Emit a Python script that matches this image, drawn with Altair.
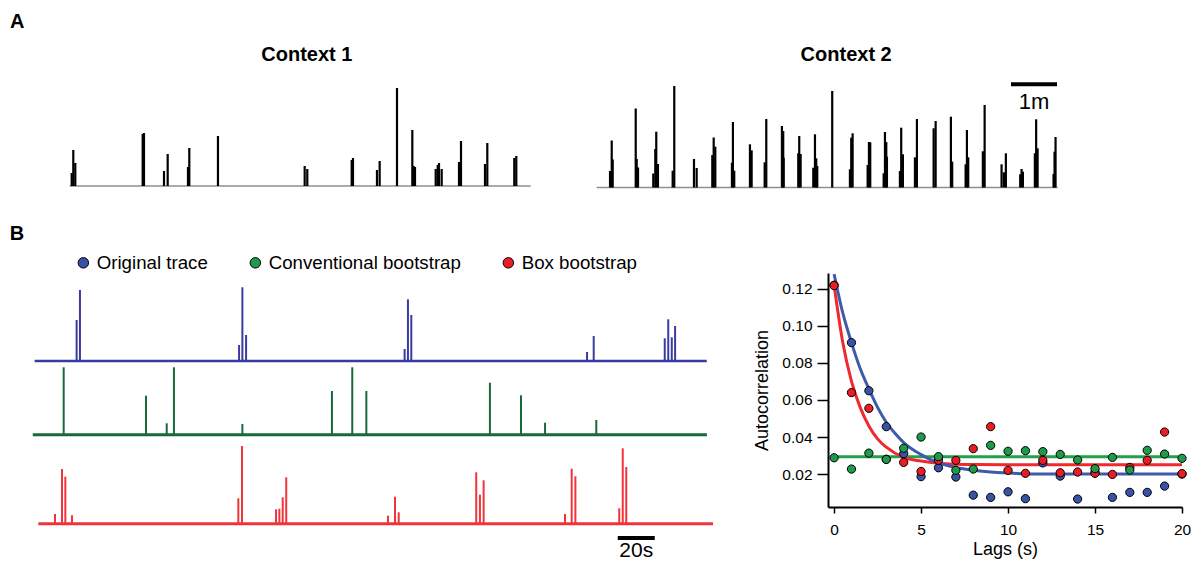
import altair as alt
import pandas as pd

FONT = "Liberation Sans"

# ---------------- Panel A data (time in s, amplitude in a.u.) ----------------
C1_T = [2.2, 4.3, 6.9, 94.8, 96.5, 122.6, 127.4, 153.9, 155.6, 193.0, 306.1, 309.5,
        367.4, 369.1, 400.4, 403.9, 426.5, 446.5, 448.3, 450.0, 477.0, 479.6, 481.3,
        484.8, 507.4, 510.0, 541.3, 544.3, 579.5, 582.1]
C1_H = [13, 36, 23, 52, 53, 15, 32, 19, 38, 50, 20, 17, 26, 28, 16, 25, 98, 56, 20,
        19, 17, 21, 23, 17, 24, 45, 22, 43, 28, 30]

C2_T = [17.0, 19.2, 20.5, 50.5, 51.8, 53.5, 73.4, 76.0, 77.3, 79.5, 98.7, 100.8,
        126.5, 130.0, 150.4, 152.2, 154.3, 176.0, 177.3, 179.0, 199.5, 201.7, 218.7,
        220.8, 241.2, 242.9, 243.5, 262.5, 263.8, 265.6, 282.1, 284.3, 286.0, 287.3,
        306.8, 329.9, 331.6, 333.4, 353.0, 354.7, 356.4, 373.9, 375.6, 377.3, 378.2,
        395.1, 396.8, 399.0, 414.7, 417.3, 439.1, 441.7, 461.6, 463.3, 480.8, 482.5,
        484.2, 503.3, 505.6, 527.7, 530.7, 533.3, 552.0, 553.8, 555.5, 571.1, 572.8,
        574.7, 595.5, 596.8, 598.1]
C2_H = [16.5, 47, 28, 79, 28.5, 20, 14, 38.5, 55.8, 23.5, 16.8, 101.5,
        28.5, 19.5, 32.5, 50, 40.8, 24.8, 65.5, 16.8, 43.2, 37.2, 25.2,
        68.5, 61.5, 56.5, 29.8, 34.2, 51.5, 33.5, 19.8, 53.2, 29.2, 21.5,
        96.5, 18.2, 49.8, 54.2, 22.5, 45.5, 45.2, 14.2, 55.5, 45.5, 30.8,
        16.5, 59.8, 33.2, 30.2, 68.5, 59.2, 66.5, 70.8, 25.8, 23.2, 57.5,
        30.2, 36.2, 82.5, 23.2, 15.2, 34.2, 13.2, 18.5, 15.8, 34.2, 68.2,
        39.2, 13.5, 35.8, 50.5]

# ---------------- Panel B traces ----------------
BLUE_T = [22.5, 24.3, 110.3, 112.1, 114.1, 199.8, 201.6, 203.4, 298.4, 302.0,
          340.4, 342.3, 344.2, 346.0]
BLUE_H = [41, 71, 16, 73.7, 26, 12, 61.7, 46, 9, 25, 22.7, 41.7, 23.7, 35]

GREEN_T = [15.5, 60.0, 71.2, 75.1, 112.1, 160.5, 171.5, 179.1, 245.9, 262.7,
           275.7, 303.4]
GREEN_H = [67.4, 39, 11.4, 67.4, 10.7, 43.7, 67.4, 43.7, 52, 39.4, 12, 14.7]

RED_T = [10.8, 14.6, 16.4, 20.0, 109.9, 111.9, 130.3, 132.1, 133.9, 135.8, 190.8,
         194.6, 196.6, 238.5, 240.5, 242.5, 286.5, 290.1, 292.1, 315.8, 317.7, 319.6]
RED_H = [9.7, 54.7, 47, 8.4, 25.4, 77.7, 14.4, 15, 26.4, 46.4, 8, 27, 11.4, 51.4,
         29, 43.4, 9.7, 55, 47.4, 15.4, 75.4, 56.7]

# ---------------- Autocorrelation ----------------
SERIES = ["Original trace", "Conventional bootstrap", "Box bootstrap"]
POINT_COLORS = ["#3953a4", "#1e9a4a", "#ed1c24"]
LAGS = list(range(21))
BLUE_ACF = [0.122, 0.091, 0.065, 0.0456, 0.031, 0.0186, 0.0234, 0.0184, 0.0086, 0.0074,
            0.0104, 0.0067, 0.026, 0.0189, 0.0065, 0.021, 0.0074, 0.0101, 0.0101,
            0.0135, 0.020]
RED_ACF = [0.1218, 0.064, 0.0555, 0.028, 0.0263, 0.0214, 0.0274, 0.0274, 0.0337,
           0.0456, 0.022, 0.0204, 0.0274, 0.0207, 0.0211, 0.0204, 0.0198, 0.0236,
           0.0274, 0.0427, 0.0202]
GREEN_ACF = [0.0288, 0.0227, 0.0313, 0.0279, 0.0339, 0.04, 0.0294, 0.022, 0.0227,
             0.0355, 0.0323, 0.0326, 0.0321, 0.0306, 0.0276, 0.0229, 0.029, 0.0222,
             0.0328, 0.0308, 0.0285]

BLUE_FIT_LAG = [0, 0.5, 1, 1.5, 2, 2.5, 3, 3.5, 4, 5, 6, 7, 8, 10, 12, 15, 20]
BLUE_FIT = [0.128, 0.107, 0.091, 0.077, 0.066, 0.056, 0.048, 0.042, 0.037, 0.0305,
            0.026, 0.0235, 0.022, 0.0205, 0.020, 0.020, 0.020]
RED_FIT_LAG = [0, 0.5, 1, 1.5, 2, 2.5, 3, 4, 5, 6, 7, 8, 10, 15, 20]
RED_FIT = [0.122, 0.091, 0.070, 0.056, 0.046, 0.039, 0.0345, 0.029, 0.027, 0.0258,
           0.0253, 0.0251, 0.025, 0.025, 0.025]
GREEN_FIT_LAG = [0, 20]
GREEN_FIT = [0.0293, 0.0293]


def lin(domain, rng):
    return alt.Scale(domain=domain, range=rng, nice=False, zero=False)


def txt(text, x, y, size, weight="normal", align="center"):
    return alt.Chart(pd.DataFrame({"a": [0]})).mark_text(
        text=text, font=FONT, fontSize=size, fontWeight=weight, color="black",
        align=align, baseline="middle").encode(
        x=alt.XDatum(x, axis=None), y=alt.YDatum(y, axis=None))


def trace(t, h, t0, t1, xs, ys, spike_color, base_color, base_w, spike_w, extras=()):
    df = pd.DataFrame({"time": t, "amp": h})
    spikes = alt.Chart(df).mark_rule(color=spike_color, strokeWidth=spike_w).encode(
        x=alt.X("time:Q", scale=xs, axis=None),
        y=alt.Y("amp:Q", scale=ys, axis=None),
        y2=alt.datum(0))
    base = alt.Chart(pd.DataFrame({"t0": [t0], "t1": [t1]})).mark_rule(
        color=base_color, strokeWidth=base_w).encode(
        x=alt.X("t0:Q", axis=None), x2="t1:Q", y=alt.YDatum(0, axis=None))
    return alt.layer(base, spikes, *extras)


# Panel A
xs_c1 = lin([0, 600], [62, 522])
ys_c1 = lin([0, 100], [178, 78])
c1 = trace(C1_T, C1_H, -0.5, 601, xs_c1, ys_c1, "black", "#8f8f8f", 1.5, 2.2,
           extras=[txt("Context 1", 309, 131, 20, "bold"),
                   txt("A", -69, 164, 20, "bold")])

xs_c2 = lin([0, 600], [589, 1049])
ys_c2 = lin([0, 100], [179.5, 79.5])
bar_1m = alt.Chart(pd.DataFrame({"s0": [540], "s1": [600]})).mark_rule(
    color="black", strokeWidth=4).encode(
    x=alt.X("s0:Q", axis=None), x2="s1:Q", y=alt.YDatum(103.2, axis=None))
c2 = trace(C2_T, C2_H, -0.5, 601, xs_c2, ys_c2, "black", "#8f8f8f", 1.5, 2.2,
           extras=[bar_1m, txt("1m", 570, 86, 22),
                   txt("Context 2", 325, 132.5, 20, "bold")])

# Panel B traces
xs_b = lin([0, 360], [27, 693])
blue_tr = trace(BLUE_T, BLUE_H, -0.2, 363.1, xs_b, lin([0, 100], [353, 253]),
                "#3a3ba0", "#3a3ba0", 2.5, 2,
                extras=[txt("B", -9.7, 127, 20, "bold")])
green_tr = trace(GREEN_T, GREEN_H, -1.2, 363.2, xs_b, lin([0, 100], [426.7, 326.7]),
                 "#17693a", "#17693a", 3, 2)
bar_20s = alt.Chart(pd.DataFrame({"s0": [315], "s1": [335]})).mark_rule(
    color="black", strokeWidth=4).encode(
    x=alt.X("s0:Q", axis=None), x2="s1:Q", y=alt.YDatum(-14.3, axis=None))
red_tr = trace(RED_T, RED_H, 1.8, 366.5, xs_b, lin([0, 100], [515.7, 415.7]),
               "#f0343a", "#f0343a", 3, 2,
               extras=[bar_20s, txt("20s", 325, -27.0, 21)])

# Autocorrelation panel
xs_a = lin([-0.35, 20], [820, 1174])
ys_a = lin([0.0022, 0.1286], [499, 265])

AX_X = alt.Axis(
    orient="bottom", offset=-55, values=[0, 5, 10, 15, 20], title="Lags (s)",
    grid=False, labelFlush=False, tickSize=6, tickWidth=1.5, tickColor="black",
    domainColor="black", domainWidth=2, labelPadding=9, labelFontSize=15.5,
    labelFont=FONT, labelColor="black", titleFont=FONT, titleFontSize=18,
    titleFontWeight="normal", titleColor="black", titlePadding=3)
AX_Y = alt.Axis(
    orient="left", offset=-820, values=[0.02, 0.04, 0.06, 0.08, 0.10, 0.12],
    format=".2f", title="Autocorrelation", grid=False, labelFlush=False,
    tickSize=11, tickWidth=1.5, tickColor="black", domainColor="black",
    domainWidth=2, labelPadding=5, labelFontSize=15.5, labelFont=FONT,
    labelColor="black", titleFont=FONT, titleFontSize=18,
    titleFontWeight="normal", titleColor="black", titlePadding=10)

pts = pd.DataFrame({
    "lag": LAGS * 3,
    "acf": BLUE_ACF + RED_ACF + GREEN_ACF,
    "series": [SERIES[0]] * 21 + [SERIES[2]] * 21 + [SERIES[1]] * 21,
})

fit_layers = []
for lags, vals, col in [(GREEN_FIT_LAG, GREEN_FIT, "#22a14b"),
                        (RED_FIT_LAG, RED_FIT, "#ee2a2f"),
                        (BLUE_FIT_LAG, BLUE_FIT, "#3e5ba9")]:
    fit_layers.append(
        alt.Chart(pd.DataFrame({"lag": lags, "fit": vals})).mark_line(
            color=col, strokeWidth=3, interpolate="monotone").encode(
            x=alt.X("lag:Q", scale=xs_a, axis=AX_X),
            y=alt.Y("fit:Q", scale=ys_a, axis=AX_Y)))

points = alt.Chart(pts).mark_circle(size=68, opacity=1, stroke="black",
                                    strokeWidth=1).encode(
    x=alt.X("lag:Q", scale=xs_a, axis=AX_X),
    y=alt.Y("acf:Q", scale=ys_a, axis=AX_Y),
    color=alt.Color("series:N", scale=alt.Scale(domain=SERIES, range=POINT_COLORS),
                    sort=None,
                    legend=alt.Legend(
                        orient="none", legendX=66, legendY=245, direction="horizontal",
                        title=None, symbolType="circle", symbolSize=110,
                        symbolStrokeColor="black", symbolStrokeWidth=1,
                        labelFontSize=18.7, labelFont=FONT, labelColor="black",
                        labelLimit=400, columnPadding=38, labelOffset=4, padding=0)),
)

auto = alt.layer(*fit_layers, points)

chart = alt.layer(c1, c2, blue_tr, green_tr, red_tr, auto).resolve_scale(
    x="independent", y="independent"
).properties(
    width=1183, height=554, padding=0, background="white",
    autosize=alt.AutoSizeParams(type="none")
).configure_view(stroke=None)

chart.save("out.html", embed_options={"renderer": "svg", "actions": False})
